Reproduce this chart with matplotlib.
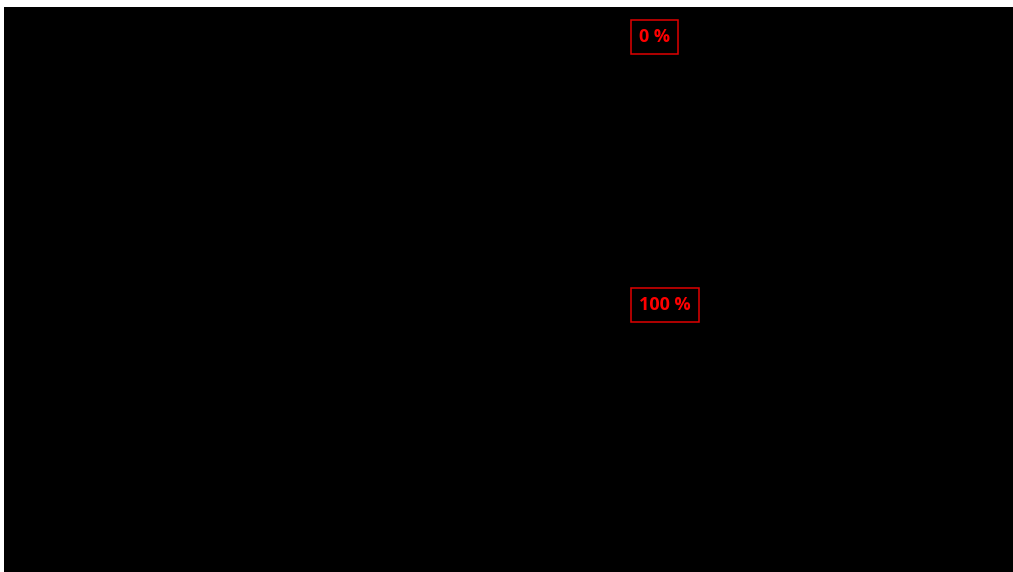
import matplotlib
matplotlib.use("Agg")
import matplotlib.pyplot as plt

# gauge labels and their values (percent)
labels = ["0 %", "100 %"]
values = [0, 100]

fig = plt.figure(figsize=(10.13, 5.72), dpi=100)
fig.patch.set_facecolor("white")
ax = fig.add_axes([4 / 1013, 0, 1009 / 1013, 565 / 572])
ax.set_facecolor("black")
ax.set_xlim(0, 1)
ax.set_ylim(199.6, -11.2)
for s in ax.spines.values():
    s.set_visible(False)
ax.set_xticks([])
ax.set_yticks([])

for lab, v in zip(labels, values):
    ax.text(0.6295, v, lab, color="#ff0000", fontsize=13, fontweight="bold",
            family="Open Sans", ha="left", va="center",
            bbox=dict(boxstyle="square,pad=0.45", facecolor="black",
                      edgecolor="#e00000", linewidth=1.1))

fig.savefig("out.png", dpi=100, facecolor=fig.get_facecolor())
